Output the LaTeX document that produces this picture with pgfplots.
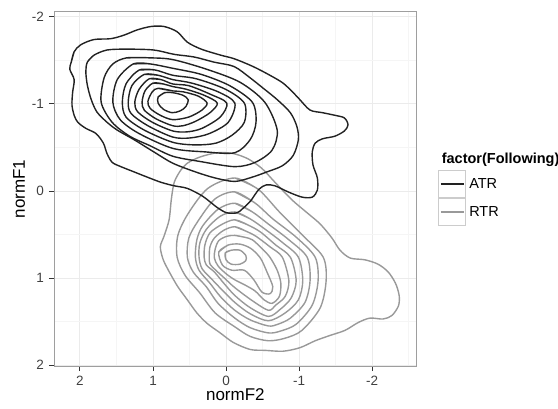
\documentclass[border=0pt]{standalone}
\usepackage{fontspec}
\setmainfont{Liberation Sans}
\usepackage{pgfplots}
\pgfplotsset{compat=1.18}
\definecolor{atr}{HTML}{222222}
\definecolor{rtr}{HTML}{999999}
\definecolor{gridmaj}{HTML}{EBEBEB}
\definecolor{gridmin}{HTML}{F5F5F5}
\definecolor{frame}{HTML}{9E9E9E}
\pgfplotsset{
  atrline/.style={draw=atr, line width=1.4pt, no marks},
  rtrline/.style={draw=rtr, line width=1.4pt, no marks},
}
\begin{document}
\begin{tikzpicture}
\path[use as bounding box] (-54pt,-42pt) rectangle (504pt,366pt);
\begin{axis}[
  at={(0pt,0pt)}, anchor=south west,
  scale only axis, width=362.7pt, height=354.3pt,
  x dir=reverse, y dir=reverse,
  xmin=-2.61, xmax=2.356, ymin=-2.06, ymax=2.01,
  xtick={-2,-1,0,1,2}, ytick={-2,-1,0,1,2},
  minor xtick={-2.5,-1.5,-0.5,0.5,1.5}, minor ytick={-1.5,-0.5,0.5,1.5},
  grid=both,
  major grid style={draw=gridmaj, line width=1pt},
  minor grid style={draw=gridmin, line width=0.6pt},
  axis line style={draw=frame, line width=0.8pt},
  tick align=outside, major tick length=5pt, minor tick length=0pt,
  xtick pos=left, ytick pos=left,
  tick style={draw=black!80, line width=1pt},
  clip mode=individual,
  /pgf/number format/assume math mode=true,
  ticklabel style={font=\fontsize{13.5}{14}\selectfont, text=black!75},
  xticklabel style={yshift=-4pt, inner ysep=1pt},
  yticklabel style={xshift=-1.5pt},
  label style={font=\fontsize{17}{18}\selectfont},
  xlabel style={inner ysep=0.5pt, yshift=-1pt},
  xlabel={normF2}, ylabel={normF1},
  legend style={at={(axis description cs:1.0595,0.553)}, anchor=north west,
    draw=none, fill=none, inner sep=0pt, row sep=0pt,
    font=\fontsize{14.5}{16}\selectfont, nodes={inner xsep=3pt, inner ysep=0pt}},
  legend cell align=left,
  legend image code/.code={
    \draw[draw=black!20, line width=0.8pt, fill=white] (0pt,-13.5pt) rectangle (27pt,13.5pt);
    \draw[#1] (2pt,0pt) -- (25pt,0pt);},
]
\addlegendimage{atrline}\addlegendentry{ATR}
\addlegendimage{rtrline}\addlegendentry{RTR}

% RTR contours
\addplot[rtrline, smooth, forget plot] coordinates {
 (0.62,-0.24) (0.53,-0.32) (0.36,-0.39) (0.12,-0.44) (-0.10,-0.43) (-0.30,-0.37)
 (-0.49,-0.26) (-0.67,-0.10) (-0.90,0.10) (-1.11,0.25) (-1.29,0.38) (-1.45,0.54)
 (-1.56,0.68) (-1.70,0.77) (-1.90,0.79) (-2.08,0.84) (-2.22,0.93) (-2.32,1.06)
 (-2.37,1.20) (-2.36,1.32) (-2.27,1.43) (-2.15,1.47) (-1.97,1.46) (-1.81,1.51)
 (-1.63,1.60) (-1.42,1.66) (-1.22,1.72) (-1.01,1.80) (-0.78,1.84) (-0.53,1.83)
 (-0.33,1.82) (-0.10,1.74) (0.08,1.63) (0.26,1.52) (0.40,1.40) (0.53,1.25)
 (0.66,1.10) (0.77,0.94) (0.86,0.79) (0.90,0.64) (0.85,0.52) (0.78,0.33)
 (0.75,0.10) (0.71,-0.10) (0.62,-0.24) (0.53,-0.32) };
\addplot[rtrline, smooth, forget plot] coordinates {
 (-0.12,-0.15) (-0.44,-0.02) (-0.73,0.24) (-1.05,0.51) (-1.33,0.76) (-1.37,1.03)
 (-1.29,1.34) (-1.04,1.60) (-0.81,1.69) (-0.58,1.72) (-0.33,1.67) (-0.12,1.56)
 (0.15,1.40) (0.36,1.17) (0.56,0.97) (0.67,0.76) (0.66,0.51) (0.52,0.26)
 (0.25,-0.03) (-0.12,-0.15) (-0.44,-0.02) };
\addplot[rtrline, smooth, forget plot] coordinates {
 (-0.12,0.01) (-0.40,0.14) (-0.64,0.32) (-0.96,0.53) (-1.22,0.76) (-1.26,1.03)
 (-1.18,1.31) (-0.96,1.53) (-0.74,1.61) (-0.58,1.63) (-0.33,1.57) (-0.12,1.46)
 (0.11,1.29) (0.27,1.10) (0.45,0.93) (0.53,0.76) (0.51,0.54) (0.38,0.34)
 (0.15,0.09) (-0.12,0.01) (-0.40,0.14) };
\addplot[rtrline, smooth, forget plot] coordinates {
 (-0.12,0.14) (-0.36,0.24) (-0.58,0.38) (-0.86,0.56) (-1.11,0.76) (-1.15,1.03)
 (-1.08,1.28) (-0.88,1.46) (-0.71,1.53) (-0.58,1.55) (-0.33,1.48) (-0.12,1.37)
 (0.07,1.22) (0.22,1.06) (0.37,0.91) (0.42,0.76) (0.40,0.56) (0.32,0.40)
 (0.11,0.21) (-0.12,0.14) (-0.36,0.24) };
\addplot[rtrline, smooth, forget plot] coordinates {
 (-0.12,0.24) (-0.33,0.32) (-0.52,0.43) (-0.77,0.59) (-0.99,0.76) (-1.05,1.03)
 (-0.99,1.25) (-0.81,1.40) (-0.58,1.49) (-0.33,1.41) (-0.12,1.28) (0.05,1.14)
 (0.21,1.00) (0.33,0.89) (0.37,0.76) (0.36,0.60) (0.27,0.44) (0.08,0.29)
 (-0.12,0.24) (-0.33,0.32) };
\addplot[rtrline, smooth, forget plot] coordinates {
 (-0.12,0.33) (-0.30,0.39) (-0.47,0.47) (-0.68,0.62) (-0.88,0.76) (-0.96,1.03)
 (-0.89,1.23) (-0.74,1.36) (-0.58,1.44) (-0.33,1.34) (-0.12,1.20) (0.03,1.06)
 (0.16,0.93) (0.27,0.85) (0.30,0.76) (0.29,0.62) (0.22,0.48) (0.05,0.38)
 (-0.12,0.33) (-0.30,0.39) };
\addplot[rtrline, smooth, forget plot] coordinates {
 (-0.12,0.41) (-0.27,0.46) (-0.41,0.52) (-0.60,0.64) (-0.77,0.76) (-0.86,1.03)
 (-0.81,1.21) (-0.68,1.31) (-0.58,1.37) (-0.36,1.26) (-0.12,1.11) (0.01,1.01)
 (0.14,0.91) (0.22,0.84) (0.23,0.76) (0.22,0.64) (0.16,0.54) (0.03,0.45)
 (-0.12,0.41) (-0.27,0.46) };
\addplot[rtrline, smooth, forget plot] coordinates {
 (-0.12,0.51) (-0.25,0.53) (-0.36,0.56) (-0.49,0.66) (-0.60,0.76) (-0.70,0.91)
 (-0.75,1.06) (-0.73,1.21) (-0.63,1.29) (-0.52,1.25) (-0.40,1.15) (-0.26,1.08)
 (-0.12,1.02) (0.00,0.95) (0.11,0.86) (0.16,0.77) (0.15,0.67) (0.10,0.57)
 (-0.01,0.52) (-0.12,0.51) (-0.25,0.53) };
\addplot[rtrline, smooth, forget plot] coordinates {
 (0.10,0.70) (-0.03,0.62) (-0.19,0.61) (-0.34,0.66) (-0.47,0.77) (-0.56,0.93)
 (-0.64,1.10) (-0.60,1.18) (-0.49,1.16) (-0.38,1.02) (-0.25,0.91) (-0.08,0.91)
 (0.05,0.85) (0.10,0.70) (-0.03,0.62) };
\addplot[rtrline, smooth, forget plot] coordinates {
 (0.01,0.71) (-0.07,0.68) (-0.19,0.68) (-0.27,0.74) (-0.27,0.80) (-0.19,0.84)
 (-0.07,0.84) (0.00,0.79) (0.01,0.71) (-0.07,0.68) };

% ATR contours
\addplot[atrline, smooth, forget plot] coordinates {
 (2.12,-1.48) (2.08,-1.60) (1.99,-1.68) (1.81,-1.74) (1.58,-1.75) (1.40,-1.79)
 (1.22,-1.85) (1.03,-1.89) (0.85,-1.89) (0.67,-1.83) (0.53,-1.71) (0.34,-1.63)
 (0.07,-1.56) (-0.11,-1.52) (-0.37,-1.43) (-0.60,-1.33) (-0.78,-1.24) (-0.92,-1.13)
 (-1.01,-1.05) (-1.15,-0.93) (-1.32,-0.90) (-1.49,-0.87) (-1.62,-0.84) (-1.67,-0.76)
 (-1.62,-0.69) (-1.49,-0.63) (-1.32,-0.60) (-1.22,-0.55) (-1.18,-0.45) (-1.19,-0.30)
 (-1.25,-0.15) (-1.25,-0.01) (-1.18,0.07) (-1.04,0.07) (-0.85,0.01) (-0.67,-0.06)
 (-0.55,-0.07) (-0.45,-0.02) (-0.33,0.12) (-0.23,0.20) (-0.15,0.25) (-0.01,0.25)
 (0.12,0.19) (0.32,0.06) (0.53,-0.03) (0.71,-0.06) (0.89,-0.10) (1.08,-0.16)
 (1.26,-0.22) (1.44,-0.28) (1.56,-0.33) (1.63,-0.43) (1.68,-0.55) (1.78,-0.66)
 (1.92,-0.72) (2.03,-0.79) (2.08,-0.87) (2.11,-0.99) (2.10,-1.14) (2.08,-1.28)
 (2.14,-1.40) (2.12,-1.48) (2.08,-1.60) };
\addplot[atrline, smooth, forget plot] coordinates {
 (1.90,-1.48) (1.81,-1.56) (1.63,-1.62) (1.36,-1.63) (0.99,-1.62) (0.71,-1.57)
 (0.44,-1.54) (0.16,-1.48) (-0.11,-1.43) (-0.33,-1.30) (-0.51,-1.18) (-0.70,-1.05)
 (-0.88,-0.90) (-0.97,-0.74) (-0.99,-0.59) (-0.92,-0.41) (-0.77,-0.29) (-0.56,-0.22)
 (-0.36,-0.16) (-0.12,-0.11) (0.15,-0.15) (0.42,-0.22) (0.73,-0.32) (0.99,-0.45)
 (1.26,-0.59) (1.49,-0.70) (1.63,-0.79) (1.77,-0.91) (1.85,-1.06) (1.90,-1.22)
 (1.92,-1.37) (1.90,-1.48) (1.81,-1.56) };
\addplot[atrline, smooth, forget plot] coordinates {
 (1.36,-1.53) (1.04,-1.53) (0.73,-1.51) (0.27,-1.40) (-0.19,-1.25) (-0.53,-1.02)
 (-0.70,-0.70) (-0.63,-0.47) (-0.40,-0.33) (-0.12,-0.28) (0.36,-0.34) (0.73,-0.40)
 (1.04,-0.52) (1.32,-0.63) (1.56,-0.79) (1.71,-1.02) (1.67,-1.30) (1.55,-1.46)
 (1.36,-1.53) (1.04,-1.53) };
\addplot[atrline, smooth, forget plot] coordinates {
 (1.27,-1.46) (1.04,-1.46) (0.73,-1.41) (0.34,-1.34) (-0.05,-1.21) (-0.36,-1.02)
 (-0.41,-0.79) (-0.33,-0.59) (-0.12,-0.44) (0.29,-0.45) (0.73,-0.49) (1.19,-0.66)
 (1.45,-0.82) (1.55,-1.02) (1.49,-1.28) (1.27,-1.46) (1.04,-1.46) };
\addplot[atrline, smooth, forget plot] coordinates {
 (1.19,-1.39) (0.97,-1.39) (0.73,-1.33) (0.41,-1.29) (0.01,-1.17) (-0.25,-1.01)
 (-0.25,-0.79) (-0.08,-0.64) (0.14,-0.55) (0.42,-0.53) (0.73,-0.56) (1.12,-0.70)
 (1.37,-0.85) (1.42,-1.02) (1.37,-1.23) (1.19,-1.39) (0.97,-1.39) };
\addplot[atrline, smooth, forget plot] coordinates {
 (1.12,-1.34) (0.93,-1.33) (0.73,-1.28) (0.47,-1.24) (0.11,-1.14) (-0.12,-1.01)
 (-0.03,-0.79) (0.23,-0.66) (0.49,-0.61) (0.73,-0.62) (1.07,-0.75) (1.30,-0.89)
 (1.34,-1.02) (1.29,-1.21) (1.12,-1.34) (0.93,-1.33) };
\addplot[atrline, smooth, forget plot] coordinates {
 (1.05,-1.29) (0.89,-1.28) (0.73,-1.23) (0.51,-1.21) (0.21,-1.11) (-0.01,-1.01)
 (0.08,-0.85) (0.33,-0.72) (0.53,-0.68) (0.73,-0.69) (1.01,-0.79) (1.21,-0.91)
 (1.25,-1.02) (1.19,-1.17) (1.05,-1.29) (0.89,-1.28) };
\addplot[atrline, smooth, forget plot] coordinates {
 (1.00,-1.24) (0.86,-1.23) (0.73,-1.20) (0.55,-1.17) (0.30,-1.10) (0.12,-1.01)
 (0.22,-0.90) (0.42,-0.80) (0.59,-0.75) (0.73,-0.75) (0.96,-0.83) (1.12,-0.93)
 (1.15,-1.02) (1.11,-1.15) (1.00,-1.24) (0.86,-1.23) };
\addplot[atrline, smooth, forget plot] coordinates {
 (0.93,-1.18) (0.73,-1.15) (0.59,-1.14) (0.38,-1.09) (0.26,-1.01) (0.33,-0.93)
 (0.51,-0.85) (0.73,-0.82) (0.90,-0.87) (1.04,-0.95) (1.07,-1.03) (1.01,-1.14)
 (0.93,-1.18) (0.73,-1.15) };
\addplot[atrline, smooth, forget plot] coordinates {
 (0.93,-1.08) (0.84,-1.13) (0.73,-1.13) (0.59,-1.10) (0.52,-1.05) (0.55,-0.97)
 (0.63,-0.92) (0.74,-0.90) (0.86,-0.94) (0.93,-1.01) (0.93,-1.08) (0.84,-1.13) };

\node[anchor=west, font=\bfseries\fontsize{14.5}{16}\selectfont]
  at (axis description cs:1.0595,0.5814) {factor(Following)};
\end{axis}
\end{tikzpicture}
\end{document}
